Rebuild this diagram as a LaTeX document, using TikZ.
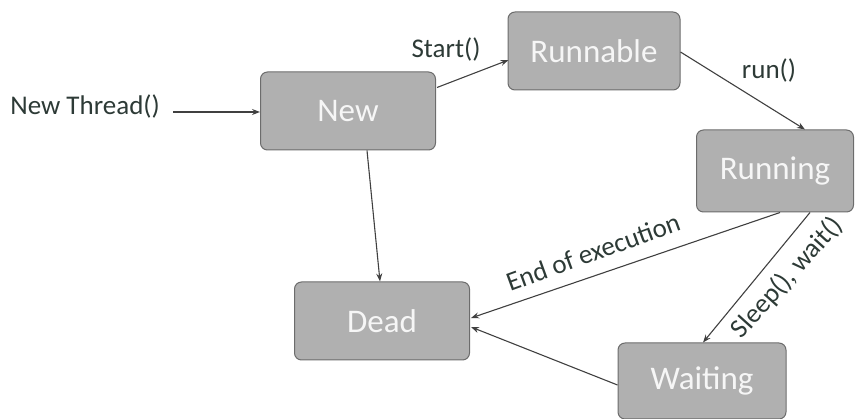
\documentclass[tikz,border=0pt]{standalone}
\usepackage{fontspec}
\setmainfont{Carlito}
\usetikzlibrary{arrows.meta}
\definecolor{lblcol}{RGB}{45,58,54}
\begin{document}
\begin{tikzpicture}[x=1pt,y=-1pt,
  state/.style={draw=gray!85!black, line width=1pt, fill=gray!62, rounded corners=7pt,
     text=white!93!gray, font=\fontsize{33}{38}\selectfont, inner sep=0pt, anchor=center},
  lbl/.style={font=\fontsize{27}{32}\selectfont, text=lblcol, inner sep=1pt},
  conn/.style={draw=black!75, line width=1.1pt, -{Stealth[length=8pt,width=6pt]}}]
\useasboundingbox (0,0) rectangle (857,419);
\node[state, minimum width=175pt, minimum height=78pt] (new) at (348,111) {New};
\node[state, minimum width=172pt, minimum height=78pt] (runnable) at (594,51) {Runnable};
\node[state, minimum width=157pt, minimum height=82pt] (running) at (775,171) {Running};
\node[state, minimum width=175pt, minimum height=78pt] (dead) at (382,321) {Dead};
\node[state, minimum width=168pt, minimum height=76pt] (waiting) at (702,381) {Waiting};
\node[lbl, anchor=east] (nt) at (161,107) {New Thread()};
\coordinate (ntend) at (173,112);
\draw[conn] (ntend) -- (new.west |- ntend);
\draw[conn] ([yshift=-16pt,xshift=1pt]new.north east) -- ([yshift=-9pt,xshift=1pt]runnable.west);
\node[lbl] (start) at (446,50) {Start()};
\draw[conn] ([yshift=-1pt]runnable.east) -- ([xshift=30pt]running.north);
\node[lbl] (run) at (769,71) {run()};
\draw[conn] ([xshift=19pt]new.south) -- ([xshift=-2pt]dead.north);
\draw[conn] ([xshift=5pt]running.south) -- ([yshift=3pt,xshift=1pt]dead.east);
\node[lbl, rotate=20] (eoe) at (593,252) {End of execution};
\draw[conn] ([xshift=35pt]running.south) -- ([xshift=1pt]waiting.north);
\node[lbl, rotate=48] (sw) at (787,278) {Sleep(), wait()};
\draw[conn] ([yshift=-4pt]waiting.west) -- ([yshift=-6pt,xshift=1pt]dead.east);
\end{tikzpicture}
\end{document}
